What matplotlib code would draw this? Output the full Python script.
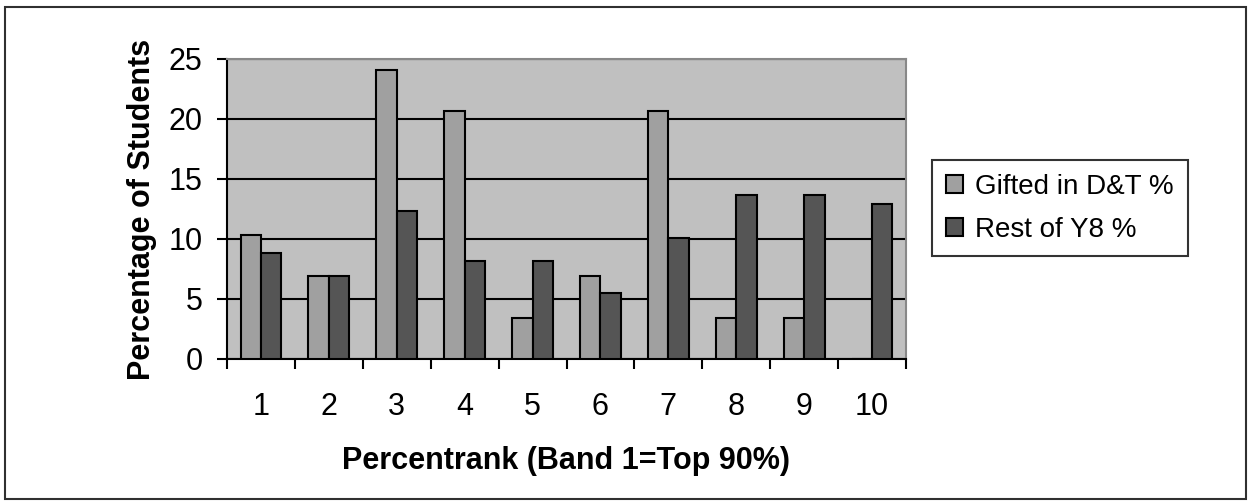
import matplotlib.pyplot as plt
import matplotlib.patches as mpatches
import numpy as np

plt.rcParams['font.family'] = ['Liberation Sans', 'DejaVu Sans']

# Data
bands = ['1', '2', '3', '4', '5', '6', '7', '8', '9', '10']
gifted = [10.3, 6.9, 24.1, 20.7, 3.4, 6.9, 20.7, 3.4, 3.4, 0.0]
rest_y8 = [8.8, 6.9, 12.3, 8.2, 8.2, 5.5, 10.1, 13.7, 13.7, 12.9]
series_names = ['Gifted in D&T %', 'Rest of Y8 %']

W, H = 1251, 503
fig = plt.figure(figsize=(W / 100, H / 100), dpi=100)

# outer chart border
fig.patches.append(mpatches.Rectangle((5 / W, 4 / H), (W - 10) / W, (H - 11) / H,
                                      transform=fig.transFigure, fill=False,
                                      edgecolor='#303030', linewidth=1.5))

ax = fig.add_axes([227 / W, 1 - 359 / H, (906 - 227) / W, (359 - 59) / H])
ax.set_facecolor('#c0c0c0')

ind = np.arange(len(bands))
width = 0.3
ax.bar(ind + 0.5 - width / 2, gifted, width, color='#a0a0a0', edgecolor='black',
       linewidth=1.5, label=series_names[0], zorder=3)
ax.bar(ind + 0.5 + width / 2, rest_y8, width, color='#555555', edgecolor='black',
       linewidth=1.5, label=series_names[1], zorder=3)

ax.set_xlim(0, len(bands))
ax.set_ylim(0, 25)
ax.set_yticks(np.arange(0, 26, 5))
ax.set_xticks(np.arange(0, len(bands) + 1), minor=False)
ax.set_xticklabels([])
ax.set_xticks(ind + 0.5, minor=True)
ax.set_xticklabels(bands, minor=True)
ax.tick_params(axis='x', which='major', length=7.5, width=1.5, direction='out')
ax.tick_params(axis='x', which='minor', length=0, pad=24, labelsize=22)
ax.tick_params(axis='y', length=7.5, width=1.5, direction='out', labelsize=22, pad=10)

ax.grid(axis='y', color='black', linewidth=1.5, zorder=1)
for s in ['top', 'right']:
    ax.spines[s].set_color('#888888')
    ax.spines[s].set_linewidth(1.5)
for s in ['left', 'bottom']:
    ax.spines[s].set_color('black')
    ax.spines[s].set_linewidth(1.5)

ax.set_ylabel('Percentage of Students', fontsize=22, fontweight='bold', labelpad=8)
ax.set_xlabel('Percentrank (Band 1=Top 90%)', fontsize=22, fontweight='bold', labelpad=17)

leg = ax.legend(loc='upper left', bbox_to_anchor=(932 / W, 1 - 160 / H),
                bbox_transform=fig.transFigure, fontsize=20, frameon=True,
                fancybox=False, edgecolor='black', handlelength=0.6, handleheight=0.6,
                handletextpad=0.45, borderpad=0.5, labelspacing=0.6, borderaxespad=0)
leg.get_frame().set_linewidth(1.5)

plt.savefig('out.png', dpi=100)
